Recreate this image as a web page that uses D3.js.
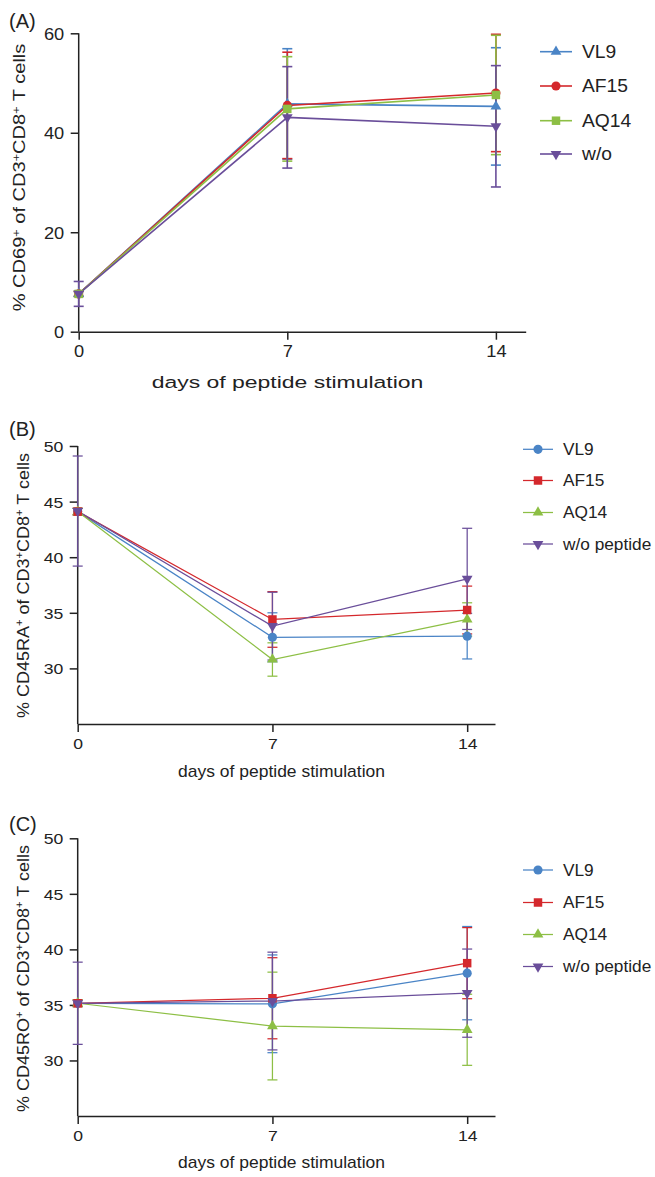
<!DOCTYPE html>
<html>
<head>
<meta charset="utf-8">
<script src="https://cdn.jsdelivr.net/npm/d3@7"></script>
<style>
  html, body { margin: 0; padding: 0; background: #fff; }
  svg { display: block; font-family: "Liberation Sans", Arial, Helvetica, sans-serif; }
</style>
</head>
<body>
<svg id="chart" width="655" height="1177"></svg>
<script>
// ---------- data ----------
const days = [0, 7, 14];
const xTickLabels = ["0", "7", "14"];

// Panel A: % CD69+
const seriesA = ["VL9", "AF15", "AQ14", "w/o"];
const symbolsA = ["triUp", "circle", "square", "triDown"];
const yTicksA = [0, 20, 40, 60];
const meanA_VL9  = [7.6, 45.8, 45.3];
const errA_VL9   = [0.5, 11.1, 11.8];
const meanA_AF15 = [7.6, 45.5, 48.0];
const errA_AF15  = [0.5, 10.7, 11.8];
const meanA_AQ14 = [7.6, 44.8, 47.6];
const errA_AQ14  = [0.5, 10.5, 12.0];
const meanA_WO   = [7.6, 43.1, 41.3];
const errA_WO    = [2.5, 10.2, 12.2];

// Panel B: % CD45RA+
const seriesB = ["VL9", "AF15", "AQ14", "w/o peptide"];
const symbolsBC = ["circle", "square", "triUp", "triDown"];
const yTicksB = [30, 35, 40, 45, 50];
const meanB_VL9  = [44.1, 32.8, 32.9];
const errB_VL9   = [0.3, 2.2, 2.05];
const meanB_AF15 = [44.1, 34.4, 35.25];
const errB_AF15  = [0.3, 2.5, 2.15];
const meanB_AQ14 = [44.1, 30.8, 34.4];
const errB_AQ14  = [0.3, 1.5, 1.5];
const meanB_WO   = [44.15, 33.8, 38.05];
const errB_WO    = [4.95, 3.05, 4.55];

// Panel C: % CD45RO+
const seriesC = ["VL9", "AF15", "AQ14", "w/o peptide"];
const yTicksC = [30, 35, 40, 45, 50];
const meanC_VL9  = [35.15, 35.1, 37.86];
const errC_VL9   = [0.3, 4.4, 4.2];
const meanC_AF15 = [35.15, 35.6, 38.76];
const errC_AF15  = [0.3, 3.65, 3.2];
const meanC_AQ14 = [35.15, 33.1, 32.76];
const errC_AQ14  = [0.3, 4.85, 3.2];
const meanC_WO   = [35.15, 35.35, 36.06];
const errC_WO    = [3.7, 4.4, 3.97];

const colors = ["#4a84c6", "#d4282c", "#8dbf45", "#6a4e9a"];

// ---------- drawing ----------
const svg = d3.select("#chart");
const INK = "#222";

function symbolPath(kind) {
  const map = { circle: d3.symbolCircle, square: d3.symbolSquare, triUp: d3.symbolTriangle, triDown: d3.symbolTriangle };
  const areas = { circle: 66, square: 72, triUp: 50, triDown: 50 };
  return d3.symbol().type(map[kind]).size(areas[kind])();
}

// place text at (x,y) with horizontal stretch so its length equals target (or factor sx)
function stretchText(sel, x, y, opts) {
  const node = sel.node();
  let s = opts.sx || 1;
  if (opts.width) s = opts.width / node.getComputedTextLength();
  sel.attr("x", 0).attr("y", 0)
     .attr("transform", `translate(${x},${y})` + (opts.rotate ? ` rotate(${opts.rotate})` : "") + ` scale(${s},1)`);
}

function drawPanel(cfg) {
  const g = svg.append("g");
  const x = d3.scaleLinear().domain([0, 15]).range([cfg.x0, cfg.xEnd]);
  const y = d3.scaleLinear().domain(cfg.yDomain).range([cfg.yBottom, cfg.yTop]);

  // y axis
  const yAxis = d3.axisLeft(y).tickValues(cfg.yTicks).tickSize(8).tickPadding(6.5).tickSizeOuter(0);
  const ya = g.append("g").attr("transform", `translate(${cfg.x0},0)`).call(yAxis);
  ya.select(".domain").remove();
  ya.append("line").attr("x1", 0).attr("x2", 0).attr("y1", y(cfg.yTicks[cfg.yTicks.length - 1])).attr("y2", cfg.yBottom)
    .attr("stroke", INK).attr("stroke-width", 1.5);

  // x axis
  const xAxis = d3.axisBottom(x).tickValues(days).tickFormat((d, i) => xTickLabels[i]).tickSize(8).tickPadding(6).tickSizeOuter(0);
  const xa = g.append("g").attr("transform", `translate(0,${cfg.yBottom})`).call(xAxis);
  xa.select(".domain").attr("stroke", INK).attr("stroke-width", 1.5);

  [ya, xa].forEach(a => {
    a.selectAll(".tick line").attr("stroke", INK).attr("stroke-width", 1.5);
    a.selectAll(".tick text").attr("fill", INK)
      .style("font-size", cfg.tickFont + "px").style("font-family", "Liberation Sans, Arial, sans-serif");
  });
  ya.selectAll(".tick text").each(function() {
    const t = d3.select(this);
    const tx = +t.attr("x");
    t.attr("dy", "0.36em");
    stretchText(t, tx, 0, { sx: cfg.tickStretch });
  });
  xa.selectAll(".tick text").each(function() {
    const t = d3.select(this);
    const ty = +t.attr("y");
    stretchText(t, 0, ty, { sx: cfg.tickStretch });
  });

  // x axis title
  const xt = g.append("text").attr("text-anchor", "middle").attr("fill", INK)
    .style("font-size", cfg.xTitleFont + "px").text("days of peptide stimulation");
  stretchText(xt, cfg.xTitleCx, cfg.yBottom + cfg.xTitleDy, { width: cfg.xTitleW });

  // y axis title
  const yt = g.append("text").attr("text-anchor", "middle").attr("fill", INK).style("font-size", "16px");
  cfg.yTitle.forEach(part => {
    const t = yt.append("tspan").text(part[0]);
    if (part[1]) t.attr("baseline-shift", "super").style("font-size", "10px");
  });
  stretchText(yt, cfg.yTitleX, cfg.yTitleCy, { width: cfg.yTitleW, rotate: -90 });

  // panel letter
  g.append("text").attr("x", 9).attr("y", cfg.letterY).attr("fill", INK)
    .style("font-size", "20px").text(cfg.letter);

  const allPts = cfg.series.map((name, si) => days.map((d, i) => ({ d, m: cfg.means[si][i], e: cfg.errs[si][i] })));

  // error bars + lines
  cfg.series.forEach((name, si) => {
    const pts = allPts[si], col = colors[si];
    const sg = g.append("g");
    pts.forEach(p => {
      sg.append("line").attr("x1", x(p.d)).attr("x2", x(p.d)).attr("y1", y(p.m - p.e)).attr("y2", y(p.m + p.e))
        .attr("stroke", col).attr("stroke-width", cfg.lineW);
      [p.m - p.e, p.m + p.e].forEach(v => {
        sg.append("line").attr("x1", x(p.d) - 5).attr("x2", x(p.d) + 5).attr("y1", y(v)).attr("y2", y(v))
          .attr("stroke", col).attr("stroke-width", cfg.lineW);
      });
    });
    sg.append("path").datum(pts).attr("fill", "none").attr("stroke", col).attr("stroke-width", cfg.lineW)
      .attr("d", d3.line().x(p => x(p.d)).y(p => y(p.m)));
  });

  // markers
  cfg.markerOrder.forEach(si => {
    const kind = cfg.symbols[si], col = colors[si];
    g.append("g").selectAll("path").data(allPts[si]).enter().append("path")
      .attr("d", symbolPath(kind))
      .attr("transform", p => `translate(${x(p.d)},${y(p.m)})` + (kind === "triDown" ? " rotate(180)" : ""))
      .attr("fill", col);
  });

  // legend
  cfg.series.forEach((name, si) => {
    const kind = cfg.symbols[si], col = colors[si];
    const ly = cfg.legendY[si];
    const lg = g.append("g");
    lg.append("line").attr("x1", cfg.legendX).attr("x2", cfg.legendX + cfg.legendLen).attr("y1", ly).attr("y2", ly)
      .attr("stroke", col).attr("stroke-width", cfg.lineW);
    lg.append("path").attr("d", symbolPath(kind))
      .attr("transform", `translate(${cfg.legendX + cfg.legendLen / 2},${ly})` + (kind === "triDown" ? " rotate(180)" : ""))
      .attr("fill", col);
    const lt = lg.append("text").attr("dy", "0.36em").attr("fill", INK)
      .style("font-size", cfg.legendFont + "px").text(name);
    stretchText(lt, cfg.legendTextX, ly, { sx: cfg.legendStretch });
  });
}

drawPanel({
  letter: "(A)", letterY: 28,
  x0: 78.7, xEnd: 525.7, yTop: 33.3, yBottom: 331.7, yDomain: [0, 60], yTicks: yTicksA,
  tickFont: 16.3, tickStretch: 1.12, lineW: 1.6,
  xTitleFont: 17, xTitleCx: 287.5, xTitleDy: 56, xTitleW: 272,
  yTitleX: 25, yTitleCy: 177.5, yTitleW: 268,
  yTitle: [["% CD69"], ["+", true], [" of CD3"], ["+", true], ["CD8"], ["+", true], [" T cells"]],
  series: seriesA, symbols: symbolsA, markerOrder: [0, 1, 2, 3],
  means: [meanA_VL9, meanA_AF15, meanA_AQ14, meanA_WO],
  errs: [errA_VL9, errA_AF15, errA_AQ14, errA_WO],
  legendX: 540, legendLen: 32, legendTextX: 582, legendY: [51.7, 86, 120.7, 154],
  legendFont: 17.5, legendStretch: 1.1
});

drawPanel({
  letter: "(B)", letterY: 436,
  x0: 77.7, xEnd: 495, yTop: 446, yBottom: 724, yDomain: [25, 50], yTicks: yTicksB,
  tickFont: 15.3, tickStretch: 1.15, lineW: 1.25,
  xTitleFont: 16, xTitleCx: 281.5, xTitleDy: 53, xTitleW: 207,
  yTitleX: 28.5, yTitleCy: 585.5, yTitleW: 265,
  yTitle: [["% CD45RA"], ["+", true], [" of CD3"], ["+", true], ["CD8"], ["+", true], [" T cells"]],
  series: seriesB, symbols: symbolsBC, markerOrder: [0, 2, 1, 3],
  means: [meanB_VL9, meanB_AF15, meanB_AQ14, meanB_WO],
  errs: [errB_VL9, errB_AF15, errB_AQ14, errB_WO],
  legendX: 523, legendLen: 30, legendTextX: 563, legendY: [449.3, 480.5, 512.5, 544],
  legendFont: 16.3, legendStretch: 1.06
});

drawPanel({
  letter: "(C)", letterY: 831,
  x0: 77.7, xEnd: 495, yTop: 838.3, yBottom: 1116, yDomain: [25, 50], yTicks: yTicksC,
  tickFont: 15.3, tickStretch: 1.15, lineW: 1.25,
  xTitleFont: 16, xTitleCx: 281.5, xTitleDy: 52, xTitleW: 207,
  yTitleX: 28.5, yTitleCy: 978.5, yTitleW: 267,
  yTitle: [["% CD45RO"], ["+", true], [" of CD3"], ["+", true], ["CD8"], ["+", true], [" T cells"]],
  series: seriesC, symbols: symbolsBC, markerOrder: [0, 2, 1, 3],
  means: [meanC_VL9, meanC_AF15, meanC_AQ14, meanC_WO],
  errs: [errC_VL9, errC_AF15, errC_AQ14, errC_WO],
  legendX: 523, legendLen: 30, legendTextX: 563, legendY: [870, 902.5, 934.5, 966.5],
  legendFont: 16.3, legendStretch: 1.06
});
</script>
</body>
</html>
